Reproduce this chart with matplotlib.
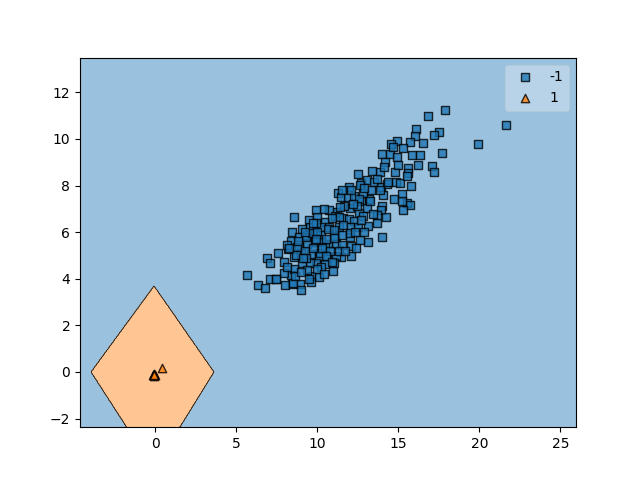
import numpy as np
import matplotlib
matplotlib.use("Agg")
import matplotlib.pyplot as plt
from matplotlib.path import Path

# ---- data ----
# class -1 samples (squares)
neg_x = [17.86, 16.80, 21.62, 19.90, 17.50, 17.20, 16.07, 15.99, 15.70, 16.50,
         17.70, 14.94, 14.57, 15.27, 14.00, 14.50, 15.85, 16.30, 14.90, 14.15,
         16.20, 17.10, 17.20, 15.60, 14.77, 15.56, 13.87, 13.35, 12.49, 12.67,
         13.04, 13.52, 13.95, 14.30, 14.83, 15.12, 15.76, 15.19, 14.70, 15.50,
         15.70, 15.25, 14.05, 13.85, 13.20, 12.67, 11.93, 11.28, 11.46, 11.87,
         12.24, 12.80, 14.00, 13.95, 14.26, 14.00, 13.70, 13.07, 12.55, 11.98,
         11.20, 10.74, 10.43, 9.90, 8.54, 9.46, 9.96, 10.45, 11.07, 11.60,
         11.93, 12.28, 12.82, 13.13, 13.09, 12.53, 11.98, 11.34, 10.74, 10.20,
         9.53, 9.03, 8.40, 8.38, 8.89, 9.34, 9.86, 10.19, 11.07, 11.52,
         11.98, 12.61, 12.08, 12.08, 11.48, 11.13, 10.66, 10.19, 9.83, 9.36,
         8.85, 8.17, 8.13, 7.55, 6.89, 7.10, 7.96, 8.54, 9.01, 9.59,
         10.08, 10.60, 11.13, 10.47, 9.88, 9.53, 9.06, 10.95, 10.08, 9.63,
         9.63, 8.91, 8.97, 8.44, 8.02, 8.35, 7.92, 7.06, 7.41, 6.32,
         6.75, 5.64, 9.36, 8.54, 8.46, 8.75, 9.32, 10.64, 11.03, 10.14,
         12.65, 13.23, 11.32, 11.00, 12.00, 11.52, 9.67, 10.49, 9.88, 11.00,
         14.65, 14.09, 14.96, 14.36, 15.22, 12.55, 11.63, 12.45, 13.68, 15.53,
         10.30, 10.80, 11.30, 9.20, 9.70, 10.00, 10.50, 11.60, 12.30, 12.90,
         13.40, 12.20, 11.40, 10.90, 9.70, 9.20, 8.70, 9.30, 10.20, 11.70,
         12.40, 12.70, 13.30, 13.70, 12.90, 12.10, 11.50, 7.45, 8.23, 10.51,
         8.10, 8.60, 9.00, 9.50, 10.00, 10.40, 10.90, 8.80, 9.10, 9.90]
neg_y = [11.23, 10.99, 10.59, 9.80, 10.29, 10.16, 10.43, 10.12, 9.87, 9.81,
         9.38, 9.93, 9.80, 9.60, 9.36, 9.36, 9.30, 9.30, 9.21, 9.03,
         8.87, 8.84, 8.57, 8.77, 8.60, 8.52, 8.60, 8.64, 8.48, 8.10,
         8.24, 8.17, 7.93, 8.07, 8.15, 8.10, 7.97, 7.63, 7.41, 7.27,
         7.15, 6.94, 7.60, 7.81, 7.41, 7.35, 7.93, 7.67, 7.50, 7.50,
         7.53, 7.67, 7.12, 6.94, 6.64, 5.79, 6.38, 7.04, 6.81, 7.02,
         6.87, 6.95, 6.98, 6.94, 6.64, 6.52, 6.67, 6.45, 6.70, 6.60,
         6.57, 6.49, 6.71, 6.27, 5.59, 6.24, 6.22, 6.24, 6.21, 6.24,
         6.21, 6.12, 6.00, 5.61, 5.78, 5.89, 5.95, 5.89, 5.82, 5.89,
         5.78, 5.66, 5.41, 4.98, 4.95, 5.48, 5.49, 5.57, 5.57, 5.49,
         5.38, 5.29, 5.44, 5.09, 4.89, 4.66, 4.72, 4.95, 5.09, 5.08,
         4.95, 4.95, 4.99, 4.63, 4.69, 4.66, 4.66, 4.35, 4.09, 4.13,
         3.85, 3.78, 3.52, 3.78, 3.72, 4.16, 4.24, 3.98, 3.99, 3.73,
         3.59, 4.15, 4.38, 4.41, 3.81, 5.38, 5.81, 6.15, 4.66, 5.12,
         8.03, 7.35, 6.67, 6.09, 5.95, 5.45, 5.95, 5.38, 6.38, 5.74,
         9.64, 8.78, 8.87, 8.17, 7.33, 7.41, 7.12, 7.11, 6.74, 8.40,
         5.30, 5.20, 5.20, 5.20, 5.30, 6.00, 5.70, 6.30, 6.00, 6.00,
         6.80, 7.20, 7.10, 6.60, 6.40, 6.00, 5.00, 4.90, 4.50, 5.20,
         5.30, 6.50, 7.80, 8.30, 7.90, 7.80, 7.80, 3.98, 5.31, 4.98,
         4.50, 4.10, 4.30, 4.00, 4.40, 4.20, 4.70, 5.60, 4.90, 5.70]

# class 1 samples (triangles)
pos_x = [-0.16, -0.04, -0.10, -0.12, -0.08, -0.10, 0.41]
pos_y = [-0.12, -0.12, -0.16, -0.08, -0.08, -0.12, 0.19]

# outline of the class 1 decision region
region_x = [-3.98, -0.09, 3.61, -0.10]
region_y = [0.00, 3.69, 0.00, -4.18]

labels = ["-1", "1"]

# ---- plot ----
x_lo, x_hi = -4.66, 25.96
y_lo, y_hi = -2.37, 13.49

fig, ax = plt.subplots(figsize=(6.4, 4.8), dpi=100)

xx, yy = np.meshgrid(np.linspace(x_lo, x_hi, 800), np.linspace(y_lo, y_hi, 600))
poly = Path(np.column_stack([region_x, region_y]))
inside = poly.contains_points(np.column_stack([xx.ravel(), yy.ravel()]))
Z = np.where(inside, 1, -1).reshape(xx.shape)

ax.contourf(xx, yy, Z, levels=[-2, 0, 2], colors=["#1f77b4", "#ff7f0e"], alpha=0.45)
ax.contour(xx, yy, Z, levels=[0], colors="black", linewidths=0.5)

ax.scatter(neg_x, neg_y, c="#1f77b4", marker="s", edgecolor="black",
           alpha=0.8, label=labels[0])
ax.scatter(pos_x, pos_y, c="#ff7f0e", marker="^", edgecolor="black",
           alpha=0.8, label=labels[1])

ax.set_xlim(x_lo, x_hi)
ax.set_ylim(y_lo, y_hi)
ax.legend(loc="upper right", framealpha=0.3, scatterpoints=1)

fig.savefig("out.png", dpi=100)
